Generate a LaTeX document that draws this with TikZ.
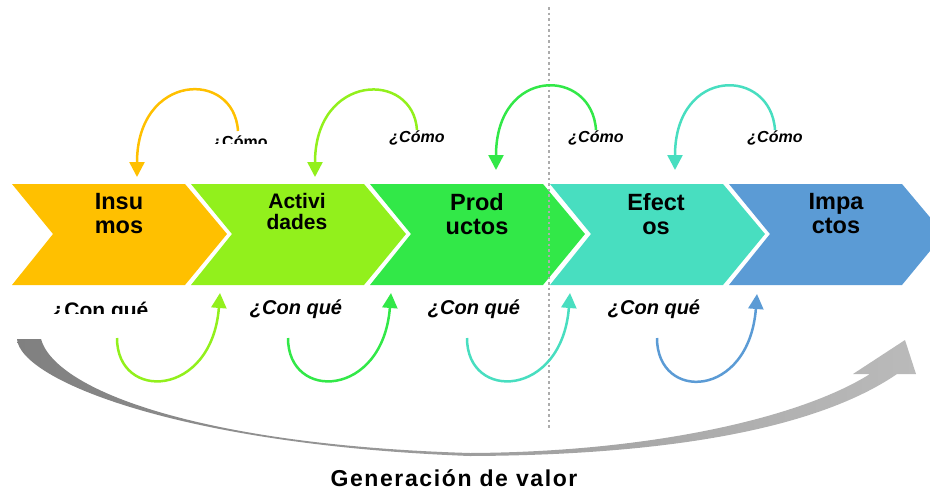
\documentclass[tikz,border=0pt]{standalone}
\usepackage{fontspec}
\setmainfont{Liberation Sans}
\usetikzlibrary{arrows.meta}
\definecolor{cIns}{RGB}{255,192,0}
\definecolor{cAct}{RGB}{146,240,28}
\definecolor{cPro}{RGB}{50,232,72}
\definecolor{cEfe}{RGB}{72,222,192}
\definecolor{cImp}{RGB}{91,155,213}
\definecolor{gLeft}{RGB}{128,128,128}
\definecolor{gRight}{RGB}{186,186,186}
\definecolor{gDots}{RGB}{172,172,172}
\tikzstyle{stage} = [font=\bfseries\fontsize{23.5}{24}\selectfont, align=center, inner sep=0pt]
\tikzstyle{ask} = [font=\bfseries\itshape\fontsize{16}{18}\selectfont, inner sep=0pt, anchor=base]
\tikzstyle{askbig} = [font=\bfseries\itshape\fontsize{20}{22}\selectfont, inner sep=0pt, anchor=base]
\tikzstyle{connector} = [line width=2.5pt, -{Triangle[width=15pt,length=15pt]}]
\tikzstyle{dotline} = [line width=2.5pt, gDots, dash pattern=on 2.5pt off 3pt]

\begin{document}
\begin{tikzpicture}[x=1pt, y=-1pt]
                \useasboundingbox (0,0) rectangle (930,491);
                \clip (0,0) rectangle (930,491);

                % gray arrow underneath
                \shade [left color=gLeft, right color=gRight]
                    (17,339) .. controls (20,380) and (180,445) .. (470,456)
                    .. controls (700,455) and (830,420) .. (897,374)
                    -- (916,374) -- (905,340) -- (853,374) -- (870,374)
                    .. controls (800,418) and (650,452) .. (470,453)
                    .. controls (200,445) and (55,390) .. (41,339) -- cycle;

                % chevrons
                \fill [cIns] (12,184) -- (185,184) -- (227,234) -- (185,285) -- (12,285) -- (53,234) -- cycle;
                \fill [cAct] (191,184) -- (364,184) -- (406,234) -- (364,285) -- (191,285) -- (232,234) -- cycle;
                \fill [cPro] (370,184) -- (543,184) -- (585,234) -- (543,285) -- (370,285) -- (411,234) -- cycle;
                \fill [cEfe] (550,184) -- (723,184) -- (765,234) -- (723,285) -- (550,285) -- (591,234) -- cycle;
                \fill [cImp] (729,184) -- (902,184) -- (944,234) -- (902,285) -- (729,285) -- (770,234) -- cycle;

                \node (ins) [stage] at (119,214) {Insu\\mos};
                \node (act) [stage, font=\bfseries\fontsize{21}{21}\selectfont] at (297,211) {Activi\\dades};
                \node (pro) [stage] at (477,214) {Prod\\uctos};
                \node (efe) [stage] at (656,214) {Efect\\os};
                \node (imp) [stage] at (836,214) {Impa\\ctos};

                \coordinate (vtop) at (549,7);
                \coordinate (vbot) at (549,430);
                \draw [dotline] (vtop) -- (vbot);

                % questions above
                \begin{scope}
                    \clip (150,100) rectangle (300,143);
                    \node (cmo1) [ask, font=\bfseries\fontsize{16}{18}\selectfont] at (240,147) {¿Cómo};
                \end{scope}
                \node (cmo2) [ask] at (417,142) {¿Cómo};
                \node (cmo3) [ask] at (596,142) {¿Cómo};
                \node (cmo4) [ask] at (775,142) {¿Cómo};

                % questions below
                \begin{scope}
                    \clip (30,290) rectangle (180,313);
                    \node (cq1) [askbig, font=\bfseries\fontsize{21}{22}\selectfont] at (100,317) {¿Con qué};
                \end{scope}
                \node (cq2) [askbig] at (296,314) {¿Con qué};
                \node (cq3) [askbig] at (474,314) {¿Con qué};
                \node (cq4) [askbig] at (654,314) {¿Con qué};

                \coordinate (t1) at (137,177);
                \coordinate (t2) at (315,177);
                \coordinate (t3) at (496,170);
                \coordinate (t4) at (675,170);
                \coordinate (s1) at (238,131);

                \draw [connector, cIns] (s1) .. controls +(-4,-62) and +(0,-104) .. (t1);
                \draw [connector, cAct] (cmo2.north) .. controls +(-4,-60) and +(0,-104) .. (t2);
                \draw [connector, cPro] (cmo3.north) .. controls +(-4,-63) and +(0,-104) .. (t3);
                \draw [connector, cEfe] (cmo4.north) .. controls +(-4,-63) and +(0,-104) .. (t4);

                \coordinate (r1) at (117,338);
                \coordinate (r2) at (288,338);
                \coordinate (r3) at (467,338);
                \coordinate (r4) at (657,338);
                \coordinate (u1) at (220,293);
                \coordinate (u2) at (391,293);
                \coordinate (u3) at (570,293);
                \coordinate (u4) at (757,294);

                \draw [connector, cAct] (r1) .. controls +(0,64) and +(-8,105) .. (u1);
                \draw [connector, cPro] (r2) .. controls +(0,64) and +(-8,105) .. (u2);
                \draw [connector, cEfe] (r3) .. controls +(0,64) and +(-8,105) .. (u3);
                \draw [connector, cImp] (r4) .. controls +(0,64) and +(-8,105) .. (u4);

                \node (gen) [font=\bfseries\fontsize{23}{26}\selectfont\addfontfeature{LetterSpace=7}, anchor=base, inner sep=0pt] at (454,486) {Generación de valor};
            \end{tikzpicture}
\end{document}
